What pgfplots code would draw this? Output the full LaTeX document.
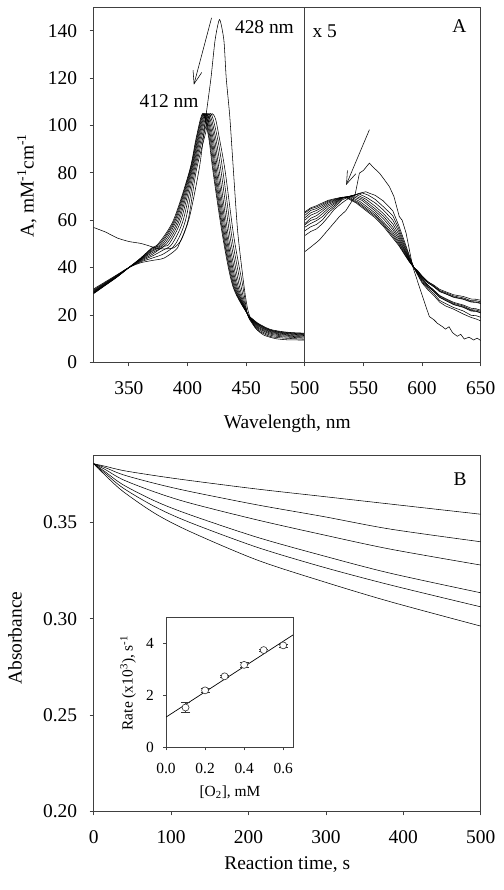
\documentclass[border=0pt]{standalone}
\usepackage{fontspec}
\setmainfont{Liberation Serif}
\usepackage{pgfplots}
\pgfplotsset{compat=1.18}
\usetikzlibrary{arrows.meta}
\newcommand\mf{\fontsize{19.5}{23}\selectfont}
\newcommand\insf{\fontsize{15.5}{18}\selectfont}
\begin{document}
\begin{tikzpicture}
\useasboundingbox (0,0) rectangle (504bp,890bp);
\pgfplotsset{
  myax/.style={
    scale only axis, anchor=south west,
    tick pos=left, tick align=outside,
    axis line style={black!75, line width=0.8bp},
    every tick/.style={black!75, line width=0.8bp},
    /pgf/number format/assume math mode=true,
    every axis plot/.append style={black, line width=0.55bp, no markers},
  },
  mainax/.style={myax,
    major tick length=4bp,
    tick label style={font=\mf},
    label style={font=\mf},
    xticklabel style={inner sep=0pt, anchor=north, yshift=-15bp},
    yticklabel style={inner sep=0pt, anchor=east, xshift=-12.4bp},
  }
}
% ---------------- Panel A ----------------
\begin{axis}[mainax,
  at={(93.7bp,527.7bp)}, width=387bp, height=355.3bp,
  xmin=320, xmax=650, ymin=0, ymax=150,
  xtick={350,400,450,500,550,600,650},
  ytick={0,20,40,60,80,100,120,140},
  xlabel={Wavelength, nm},
  ylabel={A, mM\textsuperscript{-1}cm\textsuperscript{-1}},
  xlabel style={at={(axis description cs:0.5,-0.1877)}, anchor=base},
  ylabel style={at={(axis description cs:-0.1724,0.497)}, anchor=center},
]
% initial spectrum (428 nm)
\addplot[smooth, tension=0.4] coordinates {(320,56.9)(330,55)(340,52.5)(350,51)(360,50.2)(367,49.2)(375,48)(387.6,48.2)(394.7,51.7)(401.8,61.5)(410.3,82.7)(416,105)(420,120)(423.5,136)(427.3,144.7)(431,136)(433,120)(436,104)(439,82)(442.9,54.5)(448.6,30.6)(452,21)(458,14.5)(465,11.5)(475,10)(485,9.5)(500,9.4)};
% later spectra
\addplot[smooth, tension=0.5] coordinates {(320,31)(330,34)(340,37)(350,40)(360,42)(370,43)(380,44)(390,47.5)(393,50)(400.5,60)(407.5,81)(414.5,95)(418,102)(421,105)(424,102.5)(427,95)(432,81)(439.5,53)(447.2,32)(451,20.5)(455,16.5)(460,13.5)(470,11)(480,10.3)(490,10)(500,9.8)};
\addplot[smooth, tension=0.5] coordinates {(320,30.6)(330,33.7)(340,36.8)(350,40)(360,42.4)(370,44)(380,45.9)(389.8,50)(398.3,60)(406.5,81)(413.2,95)(419.6,105)(425.4,95)(430.1,81)(437.8,53)(445.7,32)(451,20.5)(455,16.9)(460,14)(470,11.5)(480,10.8)(490,10.5)(500,10.3)};
\addplot[smooth, tension=0.5] coordinates {(320,30.3)(330,33.5)(340,36.7)(350,40)(360,42.7)(370,44.9)(380,47.6)(386.9,50)(396.3,60)(405.6,81)(412.1,95)(418.3,105)(423.9,95)(428.5,81)(436.3,53)(444.3,32)(451,20.5)(455,17.2)(460,14.5)(470,12)(480,11.2)(490,10.9)(500,10.7)};
\addplot[smooth, tension=0.5] coordinates {(320,30)(330,33.3)(340,36.5)(350,40)(360,43)(370,45.6)(380,49)(384.4,50)(394.5,60)(404.8,81)(411.1,95)(417.2,105)(422.7,95)(427,81)(434.9,53)(443.1,32)(451,20.5)(455,17.5)(460,14.9)(470,12.4)(480,11.6)(490,11.2)(500,11)};
\addplot[smooth, tension=0.5] coordinates {(320,29.8)(330,33.1)(340,36.4)(350,40)(360,43.2)(370,46.3)(382.2,50)(393,60)(404.1,81)(410.3,95)(416.2,105)(421.6,95)(425.8,81)(433.8,53)(442.1,32)(451,20.5)(455,17.7)(460,15.3)(470,12.8)(480,11.9)(490,11.5)(500,11.3)};
\addplot[smooth, tension=0.5] coordinates {(320,29.6)(330,33)(340,36.3)(350,40)(360,43.4)(370,46.9)(380.4,50)(391.8,60)(403.5,81)(409.6,95)(415.4,105)(420.7,95)(424.7,81)(432.9,53)(441.3,32)(451,20.5)(455,17.9)(460,15.6)(470,13.1)(480,12.2)(490,11.8)(500,11.6)};
\addplot[smooth, tension=0.5] coordinates {(320,29.4)(330,32.8)(340,36.2)(350,40)(360,43.6)(370,47.3)(378.8,50)(390.6,60)(403,81)(409,95)(414.7,105)(419.9,95)(423.8,81)(432,53)(440.5,32)(451,20.5)(455,18.1)(460,15.9)(470,13.4)(480,12.4)(490,12)(500,11.8)};
\addplot[smooth, tension=0.5] coordinates {(320,29.3)(330,32.7)(340,36.1)(350,40)(360,43.7)(370,47.8)(377.3,50)(389.6,60)(402.5,81)(408.4,95)(414,105)(419.2,95)(423,81)(431.2,53)(439.8,32)(451,20.5)(455,18.2)(460,16.1)(470,13.6)(480,12.6)(490,12.2)(500,12)};
\addplot[smooth, tension=0.5] coordinates {(320,29.1)(330,32.6)(340,36.1)(350,40)(360,43.9)(370,48.2)(376.1,50)(388.8,60)(402.1,81)(407.9,95)(413.5,105)(418.5,95)(422.2,81)(430.6,53)(439.2,32)(451,20.5)(455,18.4)(460,16.3)(470,13.8)(480,12.8)(490,12.4)(500,12.2)};
\addplot[smooth, tension=0.5] coordinates {(320,29)(330,32.5)(340,36)(350,40)(360,44)(370,48.5)(375,50)(388,60)(401.8,81)(407.5,95)(413,105)(418,95)(421.6,81)(430,53)(438.7,32)(451,20.5)(455,18.5)(460,16.5)(470,14)(480,13)(490,12.5)(500,12.3)};
% visible region x 5
\addplot[sharp plot] coordinates {(500,46.7)(506,49)(512.6,51.7)(520,56)(529.5,61.5)(535,64)(540.9,68.6)(543,71)(546.6,79.9)(550,81)(555.1,84.1)(558,82.5)(563.6,79.9)(568,77)(572.1,74.2)(576,70)(580.6,61.5)(583,60)(586.4,54.5)(592,40.4)(600.5,27.7)(603,24)(606.2,19.3)(610,18)(613,16.5)(617.5,15)(620,14)(623,15)(626,12.5)(630,11)(633,11.8)(636,9.8)(640,10.6)(644,9.4)(647,10.2)(650,9.2)};
\addplot[sharp plot] coordinates {(500,53.5)(505,55.2)(510,56.3)(515,58.5)(520,61.4)(525,64.5)(532,67.4)(540,70.1)(546,71.3)(552,72)(556,71.2)(560,70.5)(567,68.1)(575,64)(580,57.9)(585,51)(589,45.3)(593,40)(596,37.1)(600,33.5)(605,30.6)(610,28.2)(615,25.4)(620,23.8)(627,22.4)(635,20.4)(642,18.9)(646,18.3)(650,17.5)};
\addplot[sharp plot] coordinates {(500,55.5)(505,57.2)(510,58.2)(515,60.1)(520,63.1)(525,65.3)(532,68.6)(540,70.3)(549,71.5)(554,70.6)(560,68.8)(567,65.7)(575,61.9)(580,56.6)(585,50)(589,44.8)(593,40)(596,37.4)(600,34)(605,31.2)(610,29)(615,26.1)(620,24.8)(627,23.1)(635,21.7)(642,19.8)(646,19.7)(650,19)};
\addplot[sharp plot] coordinates {(500,57)(505,58.6)(510,59.8)(515,61.5)(520,64.1)(525,66)(532,69.1)(540,70.3)(546.2,71.1)(553,69.5)(560,67.3)(567,64.3)(575,60.1)(580,55.4)(585,49.1)(589,44.2)(593,40)(596,37.7)(600,34.5)(605,31.8)(610,30)(615,27.5)(620,26.2)(627,24.5)(635,23.4)(642,21.9)(646,21.7)(650,21)};
\addplot[sharp plot] coordinates {(500,58)(505,59.9)(510,60.7)(515,62.7)(520,65)(525,66.7)(532,69.4)(538,70.1)(543.8,70.8)(552,68.9)(560,65.9)(567,62.8)(575,58.5)(580,54.2)(585,48.4)(589,43.9)(593,40)(596,37.9)(600,34.9)(605,32.5)(610,30.5)(615,28.2)(620,26.9)(627,25.3)(635,24.2)(642,22.8)(646,22.6)(650,22)};
\addplot[sharp plot] coordinates {(500,58.5)(505,60.8)(510,61.9)(515,63.8)(520,65.9)(525,67.2)(532,69.5)(537,69.9)(541.8,70.5)(550,68.7)(560,64.8)(567,61.7)(575,57.1)(580,53.1)(585,47.7)(589,43.6)(593,40)(596,37.8)(600,35.3)(605,32)(610,29.9)(615,27.4)(620,26.1)(627,24.3)(635,23.2)(642,21.6)(646,21.5)(650,20.8)};
\addplot[sharp plot] coordinates {(500,60)(505,62.1)(510,63.1)(515,64.7)(520,66.6)(525,67.7)(532,69.5)(536,69.8)(540,70.2)(549,68.3)(560,63.9)(567,60.6)(575,56)(580,52.2)(585,47.2)(589,43.3)(593,40)(596,38.1)(600,35.6)(605,32.6)(610,30.3)(615,27.9)(620,26.6)(627,24.9)(635,23.8)(642,22.2)(646,22.1)(650,21.5)};
\addplot[sharp plot] coordinates {(500,61)(505,63.1)(510,64.1)(515,65.5)(520,67.2)(525,68.1)(532,69.7)(538.6,70)(547,67.9)(560,63)(567,59.3)(575,54.9)(580,51.3)(585,46.7)(589,43)(593,40)(596,38.4)(600,35.9)(605,33.5)(610,32)(615,30.1)(620,29)(627,27.6)(635,26.8)(642,25.6)(646,25.5)(650,25)};
\addplot[sharp plot] coordinates {(500,62)(505,64.1)(510,64.9)(515,66.2)(520,67.7)(525,68.4)(531,69.5)(537.2,69.8)(546,67.5)(560,62.2)(567,58.5)(575,54)(580,50.6)(585,46.2)(589,42.8)(593,40)(596,38.6)(600,36.1)(605,34)(610,32.6)(615,30.8)(620,29.8)(627,28.5)(635,27.8)(642,26.7)(646,26.6)(650,26.2)};
\addplot[sharp plot] coordinates {(500,63)(505,64.8)(510,65.6)(515,66.8)(520,68.1)(525,68.7)(531,69.6)(536,69.7)(545,67.3)(560,61.6)(567,58)(575,53.2)(580,49.9)(585,45.8)(589,42.6)(593,40)(596,38.7)(600,36.3)(605,33.6)(610,31.9)(615,29.8)(620,28.9)(627,27.4)(635,26.6)(642,25.4)(646,25.3)(650,24.8)};
\addplot[sharp plot] coordinates {(500,63.5)(505,65.2)(510,66.1)(515,67.3)(520,68.4)(525,69)(530,69.5)(535,69.6)(544,67.2)(560,61)(567,57.4)(575,52.5)(580,49.4)(585,45.5)(589,42.5)(593,40)(596,38.8)(600,36.5)(605,34)(610,32.3)(615,30.3)(620,29.4)(627,28)(635,27.2)(642,26)(646,26)(650,25.5)};
% divider and annotations
\draw[black!75, line width=0.8bp] (axis cs:500,0) -- (axis cs:500,150);
\draw[black, line width=0.55bp, -{Straight Barb[length=13bp, width=9bp, line width=0.55bp]}] (axis cs:420.5,145.4) -- (axis cs:405.4,117.2);
\draw[black, line width=0.55bp, -{Straight Barb[length=13bp, width=9bp, line width=0.55bp]}] (axis cs:555.1,98.2) -- (axis cs:535.3,74.9);
\node[font=\mf] at (axis cs:465.6,141.7) {428 nm};
\node[font=\mf] at (axis cs:384.3,110.1) {412 nm};
\node[font=\mf, anchor=west, inner sep=0pt] at (axis cs:506.5,139.7) {x 5};
\node[font=\mf] at (axis cs:631.8,141.8) {A};
\end{axis}
% ---------------- Panel B ----------------
\begin{axis}[mainax,
  at={(93.7bp,78.7bp)}, width=387bp, height=355.6bp,
  xmin=0, xmax=500, ymin=0.2, ymax=0.3847,
  xtick={0,100,200,300,400,500},
  ytick={0.2,0.25,0.3,0.35},
  yticklabels={0.20,0.25,0.30,0.35},
  xlabel={Reaction time, s},
  ylabel={Absorbance},
  xlabel style={at={(axis description cs:0.5,-0.165)}, anchor=base},
  ylabel style={at={(axis description cs:-0.2034,0.487)}, anchor=center},
]
\addplot[smooth] coordinates {(0,0.3805)(15,0.3792)(38,0.3770)(80,0.3743)(124.4,0.3718)(210.6,0.3674)(296.7,0.3635)(382.8,0.3596)(500,0.3543)};
\addplot[smooth] coordinates {(0,0.3805)(15,0.3785)(38,0.3748)(80,0.3702)(124.4,0.3661)(210.6,0.3592)(296.7,0.3531)(382.8,0.3466)(500,0.3400)};
\addplot[smooth] coordinates {(0,0.3805)(15,0.3775)(38,0.3722)(80,0.3657)(124.4,0.3601)(210.6,0.3514)(296.7,0.3436)(382.8,0.3362)(500,0.3279)};
\addplot[smooth] coordinates {(0,0.3805)(15,0.3763)(38,0.3696)(80,0.3610)(124.4,0.3540)(210.6,0.3424)(296.7,0.3327)(382.8,0.3237)(500,0.3135)};
\addplot[smooth] coordinates {(0,0.3805)(15,0.3755)(38,0.3679)(80,0.3580)(124.4,0.3500)(210.6,0.3372)(296.7,0.3268)(382.8,0.3176)(500,0.3062)};
\addplot[smooth] coordinates {(0,0.3805)(15,0.3745)(38,0.3661)(80,0.3545)(124.4,0.3453)(210.6,0.3306)(296.7,0.3193)(382.8,0.3089)(500,0.2962)};
\node[font=\mf] at (axis cs:473.3,0.3727) {B};
\end{axis}
% ---------------- Inset ----------------
\begin{axis}[myax,
  at={(166bp,142.7bp)}, width=127bp, height=130bp,
  xmin=0, xmax=0.65, ymin=0, ymax=5,
  major tick length=3bp,
  axis background/.style={fill=white},
  xtick={0,0.2,0.4,0.6}, xticklabels={0.0,0.2,0.4,0.6},
  ytick={0,2,4},
  tick label style={font=\insf},
  label style={font=\insf},
  xticklabel style={inner sep=0pt, anchor=north, yshift=-12.8bp},
  yticklabel style={inner sep=0pt, anchor=east, xshift=-9bp},
  xlabel={[O\textsubscript{2}], mM},
  ylabel={Rate (x10\textsuperscript{3}), s\textsuperscript{-1}},
  xlabel style={at={(axis description cs:0.504,-0.375)}, anchor=base},
  ylabel style={at={(axis description cs:-0.299,0.495)}, anchor=center},
]
\addplot[black, line width=0.7bp] coordinates {(0,1.16)(0.65,4.32)};
\addplot[black!80, only marks, mark=o, mark size=3.5bp, mark options={fill=white, line width=0.6bp},
  error bars/.cd, y dir=both, y explicit,
  error bar style={line width=0.6bp, black!80},
  error mark options={rotate=90, mark size=4.5bp, line width=0.6bp}]
  coordinates {
  (0.1,1.53) +- (0,0.19)
  (0.2,2.19) +- (0,0.06)
  (0.3,2.73) +- (0,0.04)
  (0.4,3.17) +- (0,0.11)
  (0.5,3.74) +- (0,0.04)
  (0.6,3.92) +- (0,0.06)
  };
\end{axis}
\end{tikzpicture}
\end{document}
